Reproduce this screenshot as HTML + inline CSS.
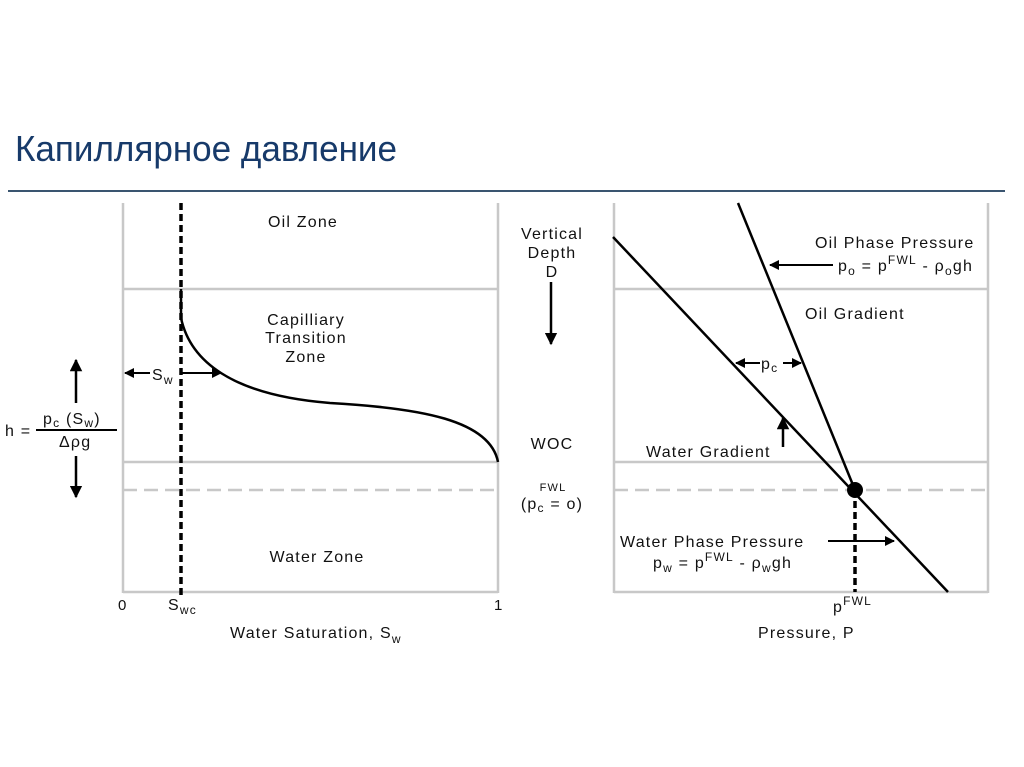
<!DOCTYPE html>
<html><head><meta charset="utf-8"><style>
html,body{margin:0;padding:0;background:#fff;width:1024px;height:767px;overflow:hidden}
svg{display:block}
text{font-family:"Liberation Sans",Arial,sans-serif;fill:#111;letter-spacing:1.2px}
text.t{letter-spacing:0}
</style></head><body>
<svg width="1024" height="767" viewBox="0 0 1024 767" xmlns="http://www.w3.org/2000/svg">
<defs>
<marker id="ah" viewBox="0 0 10 10" refX="9" refY="5" markerWidth="5" markerHeight="5" orient="auto-start-reverse"><path d="M0,0L10,5L0,10z" fill="#000"/></marker>
</defs>
<text class="t" x="15" y="161" font-size="36" textLength="382" lengthAdjust="spacingAndGlyphs" style="fill:#173a6a">Капиллярное давление</text>
<line x1="8" y1="191" x2="1005" y2="191" stroke="#3a5570" stroke-width="2"/>

<!-- left panel -->
<g stroke="#c8c8c8" stroke-width="2.5" fill="none">
<line x1="123" y1="203" x2="123" y2="593"/>
<line x1="498" y1="203" x2="498" y2="593"/>
<line x1="123" y1="592" x2="498" y2="592"/>
<line x1="123" y1="289" x2="498" y2="289"/>
<line x1="123" y1="462" x2="498" y2="462"/>
<line x1="123" y1="490" x2="498" y2="490" stroke-dasharray="14,7"/>
</g>
<line x1="181" y1="203" x2="181" y2="598" stroke="#000" stroke-width="3.5" stroke-dasharray="7,4"/>
<path d="M181,289 L181,318 C190,360 230,395 330,403 C420,408 490,420 498,462" stroke="#000" stroke-width="2.5" fill="none"/>
<line x1="150" y1="373" x2="125" y2="373" stroke="#000" stroke-width="2" marker-end="url(#ah)"/>
<line x1="182" y1="373" x2="221" y2="373" stroke="#000" stroke-width="2" marker-end="url(#ah)"/>
<text x="152" y="380" font-size="16">S<tspan font-size="12" dy="4">w</tspan></text>
<text x="303" y="227" font-size="16" text-anchor="middle">Oil Zone</text>
<text x="306" y="325" font-size="16" text-anchor="middle">Capilliary</text>
<text x="306" y="343" font-size="16" text-anchor="middle">Transition</text>
<text x="306" y="362" font-size="16" text-anchor="middle">Zone</text>
<text x="317" y="562" font-size="16" text-anchor="middle">Water Zone</text>
<text x="118" y="610" font-size="15">0</text>
<text x="168" y="610" font-size="16">S<tspan font-size="12" dy="4">wc</tspan></text>
<text x="494" y="610" font-size="15">1</text>
<text x="230" y="638" font-size="16">Water Saturation, S<tspan font-size="12" dy="5">w</tspan></text>
<!-- h formula -->
<line x1="76" y1="403" x2="76" y2="360" stroke="#000" stroke-width="2.5" marker-end="url(#ah)"/>
<line x1="76" y1="456" x2="76" y2="497" stroke="#000" stroke-width="2.5" marker-end="url(#ah)"/>
<line x1="36" y1="430" x2="117" y2="430" stroke="#000" stroke-width="2"/>
<text x="5" y="436" font-size="16">h =</text>
<text x="43" y="424" font-size="16">p<tspan font-size="12" dy="3">c</tspan><tspan dy="-3"> (S</tspan><tspan font-size="12" dy="3">w</tspan><tspan dy="-3">)</tspan></text>
<text x="59" y="447" font-size="16">Δρg</text>

<!-- middle labels -->
<text x="552" y="239" font-size="16" text-anchor="middle">Vertical</text>
<text x="552" y="258" font-size="16" text-anchor="middle">Depth</text>
<text x="552" y="277" font-size="16" text-anchor="middle">D</text>
<line x1="551" y1="282" x2="551" y2="344" stroke="#000" stroke-width="2.5" marker-end="url(#ah)"/>
<text x="552" y="449" font-size="16" text-anchor="middle">WOC</text>
<text x="553" y="491" font-size="11" text-anchor="middle">FWL</text>
<text x="552" y="509" font-size="16" text-anchor="middle">(p<tspan font-size="12" dy="3">c</tspan><tspan dy="-3"> = o)</tspan></text>

<!-- right panel -->
<g stroke="#c8c8c8" stroke-width="2.5" fill="none">
<line x1="614" y1="203" x2="614" y2="593"/>
<line x1="988" y1="203" x2="988" y2="593"/>
<line x1="614" y1="592" x2="988" y2="592"/>
<line x1="614" y1="289" x2="988" y2="289"/>
<line x1="614" y1="462" x2="988" y2="462"/>
<line x1="614" y1="490" x2="988" y2="490" stroke-dasharray="14,7"/>
</g>
<line x1="738" y1="203" x2="855" y2="490" stroke="#000" stroke-width="2.5"/>
<line x1="613" y1="237" x2="948" y2="592" stroke="#000" stroke-width="2.5"/>
<circle cx="855" cy="490" r="8" fill="#000"/>
<line x1="855" y1="490" x2="855" y2="592" stroke="#000" stroke-width="3.5" stroke-dasharray="7,4"/>
<line x1="833" y1="265" x2="770" y2="265" stroke="#000" stroke-width="2" marker-end="url(#ah)"/>
<text x="815" y="248" font-size="16">Oil Phase Pressure</text>
<text x="838" y="271" font-size="16">p<tspan font-size="12" dy="4">o</tspan><tspan dy="-4"> = p</tspan><tspan font-size="12" dy="-7">FWL</tspan><tspan dy="7"> - ρ</tspan><tspan font-size="12" dy="4">o</tspan><tspan dy="-4">gh</tspan></text>
<text x="805" y="319" font-size="16">Oil Gradient</text>
<line x1="760" y1="363" x2="736" y2="363" stroke="#000" stroke-width="2" marker-end="url(#ah)"/>
<line x1="783" y1="363" x2="801" y2="363" stroke="#000" stroke-width="2" marker-end="url(#ah)"/>
<text x="761" y="369" font-size="16">p<tspan font-size="12" dy="3">c</tspan></text>
<line x1="783" y1="447" x2="783" y2="418" stroke="#000" stroke-width="2.5" marker-end="url(#ah)"/>
<text x="646" y="457" font-size="16">Water Gradient</text>
<text x="620" y="547" font-size="16">Water Phase Pressure</text>
<line x1="828" y1="541" x2="894" y2="541" stroke="#000" stroke-width="2" marker-end="url(#ah)"/>
<text x="653" y="568" font-size="16">p<tspan font-size="12" dy="4">w</tspan><tspan dy="-4"> = p</tspan><tspan font-size="12" dy="-7">FWL</tspan><tspan dy="7"> - ρ</tspan><tspan font-size="12" dy="4">w</tspan><tspan dy="-4">gh</tspan></text>
<text x="833" y="612" font-size="16">p<tspan font-size="12" dy="-7">FWL</tspan></text>
<text x="758" y="638" font-size="16">Pressure, P</text>
</svg>
</body></html>
